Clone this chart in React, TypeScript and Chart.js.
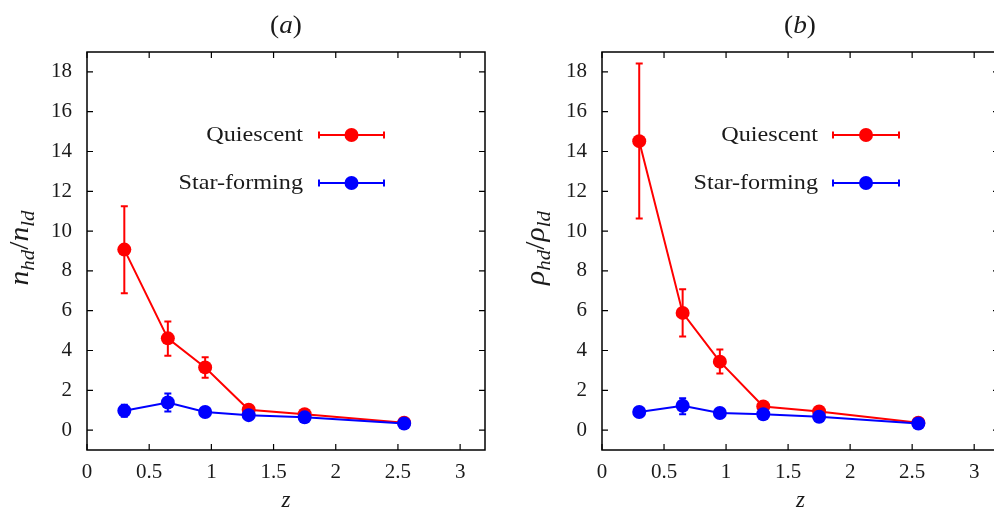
import React, { useEffect, useRef } from "react";
import { Chart, registerables } from "chart.js";

Chart.register(...registerables);

// ---- data ----
const zValues = [0.3, 0.65, 0.95, 1.3, 1.75, 2.55];

const nQuiescent = [9.07, 4.61, 3.15, 1.02, 0.8, 0.37];
const nQuiescentLow = [6.88, 3.74, 2.63, 0.92, 0.72, 0.32];
const nQuiescentHigh = [11.25, 5.46, 3.66, 1.12, 0.88, 0.42];

const nStarForming = [0.97, 1.39, 0.91, 0.75, 0.64, 0.33];
const nStarFormingLow = [0.67, 0.94, 0.81, 0.68, 0.58, 0.29];
const nStarFormingHigh = [1.27, 1.84, 1.01, 0.82, 0.7, 0.37];

const rhoQuiescent = [14.52, 5.89, 3.44, 1.19, 0.94, 0.37];
const rhoQuiescentLow = [10.63, 4.7, 2.85, 1.07, 0.86, 0.32];
const rhoQuiescentHigh = [18.42, 7.08, 4.05, 1.31, 1.02, 0.42];

const rhoStarForming = [0.91, 1.22, 0.86, 0.8, 0.67, 0.33];
const rhoStarFormingLow = [0.75, 0.8, 0.78, 0.74, 0.61, 0.29];
const rhoStarFormingHigh = [1.07, 1.6, 0.94, 0.86, 0.73, 0.37];

const xTickValues = [0, 0.5, 1, 1.5, 2, 2.5, 3];
const yTickValues = [0, 2, 4, 6, 8, 10, 12, 14, 16, 18];
const seriesNames = ["Quiescent", "Star-forming"];
const panelTitles = ["a", "b"];

const RED = "#ff0000";
const BLUE = "#0000ff";
const TEXT = "#1a1a1a";
const SERIF = "'Liberation Serif', 'Times New Roman', serif";

type MathPart = { t: string; sub?: boolean; upright?: boolean };

function drawMath(ctx: CanvasRenderingContext2D, parts: MathPart[], size: number, sx = 1) {
  // draws centered at origin (0,0), baseline at y=0
  const subSize = Math.round(size * 0.7);
  const fontFor = (p: MathPart) =>
    `${p.upright ? "" : "italic "}${p.sub ? subSize : size}px ${SERIF}`;
  let total = 0;
  const widths = parts.map((p) => {
    ctx.font = fontFor(p);
    const w = ctx.measureText(p.t).width;
    total += w;
    return w;
  });
  ctx.save();
  ctx.scale(sx, 1);
  let x = -total / 2;
  ctx.textAlign = "left";
  ctx.textBaseline = "alphabetic";
  parts.forEach((p, i) => {
    ctx.font = fontFor(p);
    ctx.fillText(p.t, x, p.sub ? size * 0.22 : 0);
    x += widths[i];
  });
  ctx.restore();
}

const decoPlugin = {
  id: "deco",
  beforeDatasetsDraw(chart: any) {
    const ctx: CanvasRenderingContext2D = chart.ctx;
    const xs = chart.scales.x;
    const ys = chart.scales.y;
    chart.data.datasets.forEach((ds: any) => {
      ctx.save();
      ctx.strokeStyle = ds.borderColor;
      ctx.lineWidth = 2;
      ds.data.forEach((p: any, i: number) => {
        const x = xs.getPixelForValue(p.x);
        const y1 = ys.getPixelForValue(ds.errLow[i]);
        const y2 = ys.getPixelForValue(ds.errHigh[i]);
        ctx.beginPath();
        ctx.moveTo(x, y1);
        ctx.lineTo(x, y2);
        ctx.moveTo(x - 3.5, y1);
        ctx.lineTo(x + 3.5, y1);
        ctx.moveTo(x - 3.5, y2);
        ctx.lineTo(x + 3.5, y2);
        ctx.stroke();
      });
      ctx.restore();
    });
  },
  afterDraw(chart: any, _args: any, opts: any) {
    const ctx: CanvasRenderingContext2D = chart.ctx;
    const { left, right, top, bottom } = chart.chartArea;
    const xs = chart.scales.x;
    const ys = chart.scales.y;
    ctx.save();
    // frame
    ctx.strokeStyle = "#000";
    ctx.lineWidth = 1.5;
    ctx.strokeRect(left, top, right - left, bottom - top);
    // inward ticks
    ctx.lineWidth = 1.2;
    const tl = 6;
    ctx.beginPath();
    xs.ticks.forEach((t: any) => {
      const x = xs.getPixelForValue(t.value);
      ctx.moveTo(x, bottom);
      ctx.lineTo(x, bottom - tl);
      ctx.moveTo(x, top);
      ctx.lineTo(x, top + tl);
    });
    ys.ticks.forEach((t: any) => {
      const y = ys.getPixelForValue(t.value);
      ctx.moveTo(left, y);
      ctx.lineTo(left + tl, y);
      ctx.moveTo(right, y);
      ctx.lineTo(right - tl, y);
    });
    ctx.stroke();

    // legend
    chart.data.datasets
      .slice()
      .reverse()
      .forEach((ds: any, i: number) => {
        const y = opts.legendY[i];
        ctx.save();
        ctx.translate(opts.legendTextRight, y);
        ctx.scale(1.1, 1);
        ctx.font = `22px ${SERIF}`;
        ctx.textAlign = "right";
        ctx.textBaseline = "middle";
        ctx.fillStyle = TEXT;
        ctx.fillText(ds.label, 0, 0);
        ctx.restore();
        ctx.strokeStyle = ds.borderColor;
        ctx.lineWidth = 2;
        const x1 = opts.legendX1;
        const x2 = opts.legendX2;
        ctx.beginPath();
        ctx.moveTo(x1, y);
        ctx.lineTo(x2, y);
        ctx.moveTo(x1, y - 3.5);
        ctx.lineTo(x1, y + 3.5);
        ctx.moveTo(x2, y - 3.5);
        ctx.lineTo(x2, y + 3.5);
        ctx.stroke();
        ctx.fillStyle = ds.borderColor;
        ctx.beginPath();
        ctx.arc((x1 + x2) / 2, y, 7, 0, Math.PI * 2);
        ctx.fill();
      });

    // title
    ctx.fillStyle = TEXT;
    const cx = (left + right) / 2;
    ctx.save();
    ctx.translate(opts.titleX ?? cx, 33);
    drawMath(ctx, [{ t: "(", upright: true }, { t: opts.title }, { t: ")", upright: true }], 26, 1.05);
    ctx.restore();
    // x label
    ctx.save();
    ctx.translate(cx, 507);
    drawMath(ctx, [{ t: "z" }], 23);
    ctx.restore();
    // y label
    ctx.save();
    ctx.translate(opts.yLabelX, 248);
    ctx.rotate(-Math.PI / 2);
    drawMath(ctx, opts.yLabel, 27, 1.1);
    ctx.restore();
    ctx.restore();
  },
};

function fmt(v: number) {
  return String(v);
}

function makeConfig(
  q: number[],
  qLow: number[],
  qHigh: number[],
  sf: number[],
  sfLow: number[],
  sfHigh: number[],
  yAxisWidth: number,
  padRight: number,
  deco: any
): any {
  const pts = (vals: number[]) => zValues.map((x, i) => ({ x, y: vals[i] }));
  return {
    type: "scatter",
    data: {
      datasets: [
        {
          label: seriesNames[1],
          data: pts(sf),
          errLow: sfLow,
          errHigh: sfHigh,
          borderColor: BLUE,
          backgroundColor: BLUE,
          showLine: true,
          borderWidth: 2,
          pointRadius: 7,
          pointBorderWidth: 0,
          pointHoverRadius: 7,
        },
        {
          label: seriesNames[0],
          data: pts(q),
          errLow: qLow,
          errHigh: qHigh,
          borderColor: RED,
          backgroundColor: RED,
          showLine: true,
          borderWidth: 2,
          pointRadius: 7,
          pointBorderWidth: 0,
          pointHoverRadius: 7,
        },
      ],
    },
    options: {
      responsive: false,
      animation: false,
      events: [],
      layout: { padding: { top: 52, right: padRight, left: 0, bottom: 0 } },
      scales: {
        x: {
          type: "linear",
          min: 0,
          max: 3.2,
          afterBuildTicks: (s: any) => {
            s.ticks = xTickValues.map((v) => ({ value: v }));
          },
          afterFit: (s: any) => {
            s.height = 60;
          },
          grid: { display: false, drawTicks: false },
          border: { display: false },
          ticks: {
            color: TEXT,
            font: { family: SERIF, size: 21 },
            padding: 10,
            maxRotation: 0,
            autoSkip: false,
            callback: (v: number) => fmt(v),
          },
        },
        y: {
          type: "linear",
          min: -1,
          max: 19,
          afterBuildTicks: (s: any) => {
            s.ticks = yTickValues.map((v) => ({ value: v }));
          },
          afterFit: (s: any) => {
            s.width = yAxisWidth;
          },
          grid: { display: false, drawTicks: false },
          border: { display: false },
          ticks: {
            color: TEXT,
            font: { family: SERIF, size: 21 },
            padding: 15,
            autoSkip: false,
            callback: (v: number) => fmt(v),
          },
        },
      },
      plugins: {
        legend: { display: false },
        tooltip: { enabled: false },
        deco,
      },
    },
    plugins: [decoPlugin],
  };
}

function Panel({ config, left, width }: { config: any; left: number; width: number }) {
  const ref = useRef<HTMLCanvasElement>(null);
  useEffect(() => {
    const chart = new Chart(ref.current as HTMLCanvasElement, config);
    let alive = true;
    const fonts = (document as any).fonts;
    if (fonts && fonts.load) {
      Promise.all([
        fonts.load("21px 'Liberation Serif'"),
        fonts.load("italic 21px 'Liberation Serif'"),
      ])
        .catch(() => null)
        .then(() => {
          if (alive) chart.update("none");
        });
    }
    return () => {
      alive = false;
      chart.destroy();
    };
  }, []);
  return (
    <canvas
      ref={ref}
      width={width}
      height={510}
      style={{ position: "absolute", left, top: 0, width, height: 510 }}
    />
  );
}

export default function App() {
  const cfgA = makeConfig(
    nQuiescent,
    nQuiescentLow,
    nQuiescentHigh,
    nStarForming,
    nStarFormingLow,
    nStarFormingHigh,
    87,
    12,
    {
      title: panelTitles[0],
      legendY: [135, 183],
      legendTextRight: 303,
      legendX1: 319,
      legendX2: 384,
      yLabelX: 28,
      yLabel: [
        { t: "n" },
        { t: "hd", sub: true },
        { t: "/", upright: true },
        { t: "n" },
        { t: "ld", sub: true },
      ],
    }
  );
  const cfgB = makeConfig(
    rhoQuiescent,
    rhoQuiescentLow,
    rhoQuiescentHigh,
    rhoStarForming,
    rhoStarFormingLow,
    rhoStarFormingHigh,
    105,
    8,
    {
      title: panelTitles[1],
      titleX: 303,
      legendY: [135, 183],
      legendTextRight: 321,
      legendX1: 336,
      legendX2: 402,
      yLabelX: 47,
      yLabel: [
        { t: "ρ" },
        { t: "hd", sub: true },
        { t: "/", upright: true },
        { t: "ρ" },
        { t: "ld", sub: true },
      ],
    }
  );
  return (
    <div
      style={{
        position: "fixed",
        left: 0,
        top: 0,
        width: 994,
        height: 510,
        overflow: "hidden",
        background: "#fff",
      }}
    >
      <Panel config={cfgA} left={0} width={497} />
      <Panel config={cfgB} left={497} width={510} />
    </div>
  );
}
